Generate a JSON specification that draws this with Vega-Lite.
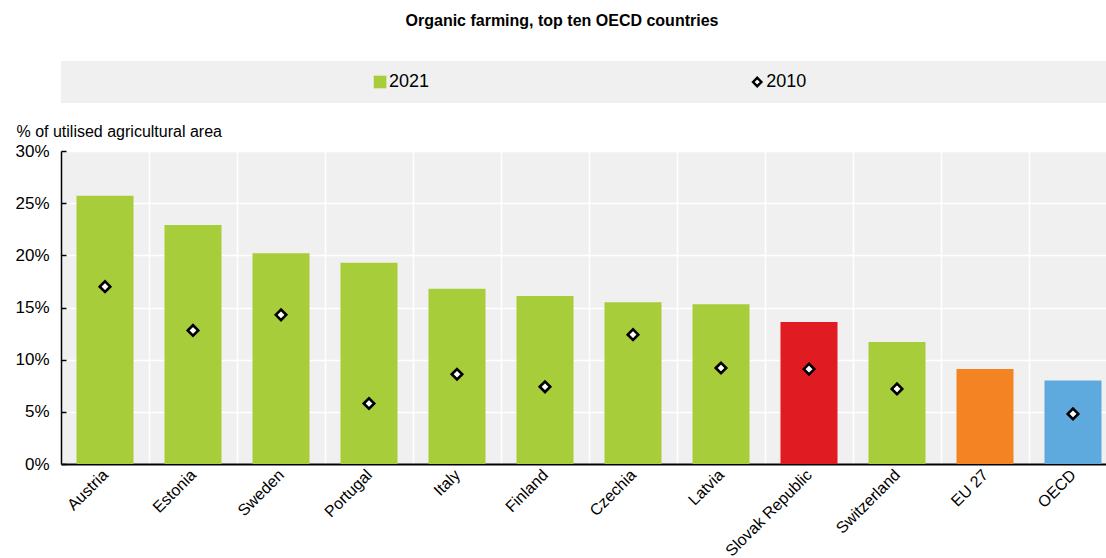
{
  "$schema": "https://vega.github.io/schema/vega-lite/v6.json",
  "background": "white",
  "padding": {"left": 14, "top": 13, "right": 0, "bottom": 0},
  "bounds": "flush",
  "spacing": 48,
  "title": {
    "text": "Organic farming, top ten OECD countries",
    "font": "Liberation Sans, Arial, sans-serif",
    "fontSize": 16,
    "fontWeight": "bold",
    "color": "#000000",
    "anchor": "middle",
    "offset": 32,
    "dx": -4
  },
  "config": {
    "font": "Liberation Sans, Arial, sans-serif",
    "view": {"stroke": null}
  },
  "resolve": {"scale": {"x": "independent", "y": "independent", "color": "independent"}},
  "datasets": {
    "legend": [{"series": "2021"}, {"series": "2010"}],
    "main": [
      {"country": "Austria", "v2021": 25.7, "v2010": 17.0, "group": "country"},
      {"country": "Estonia", "v2021": 22.9, "v2010": 12.8, "group": "country"},
      {"country": "Sweden", "v2021": 20.2, "v2010": 14.3, "group": "country"},
      {"country": "Portugal", "v2021": 19.3, "v2010": 5.8, "group": "country"},
      {"country": "Italy", "v2021": 16.8, "v2010": 8.6, "group": "country"},
      {"country": "Finland", "v2021": 16.1, "v2010": 7.4, "group": "country"},
      {"country": "Czechia", "v2021": 15.5, "v2010": 12.4, "group": "country"},
      {"country": "Latvia", "v2021": 15.3, "v2010": 9.2, "group": "country"},
      {"country": "Slovak Republic", "v2021": 13.6, "v2010": 9.1, "group": "highlight"},
      {"country": "Switzerland", "v2021": 11.7, "v2010": 7.2, "group": "country"},
      {"country": "EU 27", "v2021": 9.1, "v2010": null, "group": "eu"},
      {"country": "OECD", "v2021": 8.0, "v2010": 4.8, "group": "oecd"}
    ]
  },
  "vconcat": [
    {
      "width": 1056,
      "height": 42,
      "data": {"name": "legend"},
      "view": {"fill": "#f0f0f0", "stroke": null},
      "encoding": {
        "x": {
          "field": "series",
          "type": "nominal",
          "sort": null,
          "scale": {"type": "point", "domain": ["2021", "2010"], "padding": 0.9, "align": 0.47},
          "axis": null
        }
      },
      "layer": [
        {
          "transform": [{"filter": "datum.series === '2021'"}],
          "mark": {"type": "point", "shape": "square", "filled": true, "fill": "#a8cd3a", "strokeWidth": 0, "size": 160, "opacity": 1}
        },
        {
          "transform": [{"filter": "datum.series === '2010'"}],
          "mark": {"type": "point", "shape": "diamond", "filled": true, "fill": "white", "stroke": "black", "strokeWidth": 2.4, "size": 70, "opacity": 1}
        },
        {
          "mark": {"type": "text", "align": "left", "baseline": "middle", "dx": 9, "fontSize": 18, "color": "#000000"},
          "encoding": {"text": {"field": "series"}}
        }
      ]
    },
    {
      "width": 1056,
      "height": 313,
      "data": {"name": "main"},
      "view": {"fill": "#f0f0f0", "stroke": null},
      "encoding": {
        "x": {
          "field": "country",
          "type": "nominal",
          "sort": null,
          "scale": {"paddingInner": 0, "paddingOuter": 0},
          "axis": {
            "title": null,
            "labelAngle": -45,
            "labelAlign": "right",
            "labelBaseline": "middle",
            "labelFontSize": 16,
            "labelColor": "#000000",
            "labelPadding": 8,
            "ticks": false,
            "tickBand": "extent",
            "grid": true,
            "gridColor": "white",
            "gridWidth": 1.5,
            "domainColor": "#000000",
            "domainWidth": 2
          }
        }
      },
      "layer": [
        {
          "mark": {"type": "bar", "width": {"band": 0.648}},
          "encoding": {
            "y": {
              "field": "v2021",
              "type": "quantitative",
              "scale": {"domain": [0, 30]},
              "axis": {
                "title": "% of utilised agricultural area",
                "titleAngle": 0,
                "titleAlign": "left",
                "titleBaseline": "alphabetic",
                "titleX": -45,
                "titleY": -15,
                "titleFontWeight": "normal",
                "titleFontSize": 16,
                "titleColor": "#000000",
                "values": [0, 5, 10, 15, 20, 25, 30],
                "labelExpr": "datum.value + '%'",
                "labelFontSize": 17,
                "labelColor": "#000000",
                "labelPadding": 17,
                "domainColor": "#000000",
                "domainWidth": 1.5,
                "tickColor": "#000000",
                "tickSize": -5,
                "tickWidth": 1.5,
                "grid": true,
                "gridColor": "white",
                "gridWidth": 1.5
              }
            },
            "color": {
              "field": "group",
              "type": "nominal",
              "scale": {"domain": ["country", "highlight", "eu", "oecd"], "range": ["#a8cd3a", "#e11b22", "#f48323", "#5ea9dd"]},
              "legend": null
            }
          }
        },
        {
          "transform": [{"filter": "datum.v2010 != null"}],
          "mark": {"type": "point", "shape": "diamond", "filled": true, "fill": "white", "stroke": "black", "strokeWidth": 2.6, "size": 110, "opacity": 1},
          "encoding": {
            "y": {"field": "v2010", "type": "quantitative"}
          }
        }
      ]
    }
  ]
}
